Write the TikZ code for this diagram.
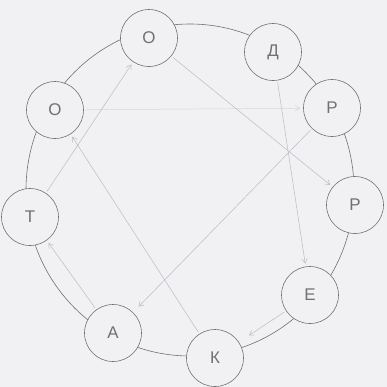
\documentclass[tikz,border=0pt]{standalone}
\usepackage{fontspec}
\setmainfont{Liberation Sans}
\usetikzlibrary{arrows.meta}
\definecolor{RingGray}{RGB}{112,112,114}
\definecolor{ArrowGray}{RGB}{186,188,194}
\definecolor{PaperGray}{RGB}{241,241,244}

\begin{document}
\begin{tikzpicture}[x=1bp,y=-1bp,
  letter/.style={circle,draw=RingGray,fill=PaperGray,line width=0.6pt,minimum size=57bp,inner sep=0pt,font=\fontsize{17}{17}\selectfont,text=RingGray},
  hop/.style={draw=ArrowGray,line width=0.5pt,-{Straight Barb[length=1.6mm,width=2mm]},shorten <=2bp,shorten >=3bp}]
  \useasboundingbox[fill=PaperGray] (0,0) rectangle (387,387);
  % outer ring
  \draw[RingGray,line width=0.6pt] (190,190) ellipse[x radius=164,y radius=166];
  % letters on the ring
  \foreach \n/\x/\y/\lab in {otop/149/38/О,d/273/52/Д,rone/332/108/Р,rtwo/355/205/Р,e/310/295/Е,k/215/358/К,a/113/333/А,t/30/217/Т,oleft/55/110/О}
    \node[letter] (\n) at (\x,\y) {\lab};
  % reading order
  \draw[hop] (d) -- (e);
  \draw[hop,shorten >=12bp] (e) -- (k);
  \draw[hop] (k) -- (oleft);
  \draw[hop,draw=ArrowGray!60] (oleft) -- (rone);
  \draw[hop,shorten >=8bp] (rone) -- (a);
  \draw[hop] (a) -- (t);
  \draw[hop] (t) -- (otop);
  \draw[hop] (otop) -- (rtwo);
\end{tikzpicture}
\end{document}
